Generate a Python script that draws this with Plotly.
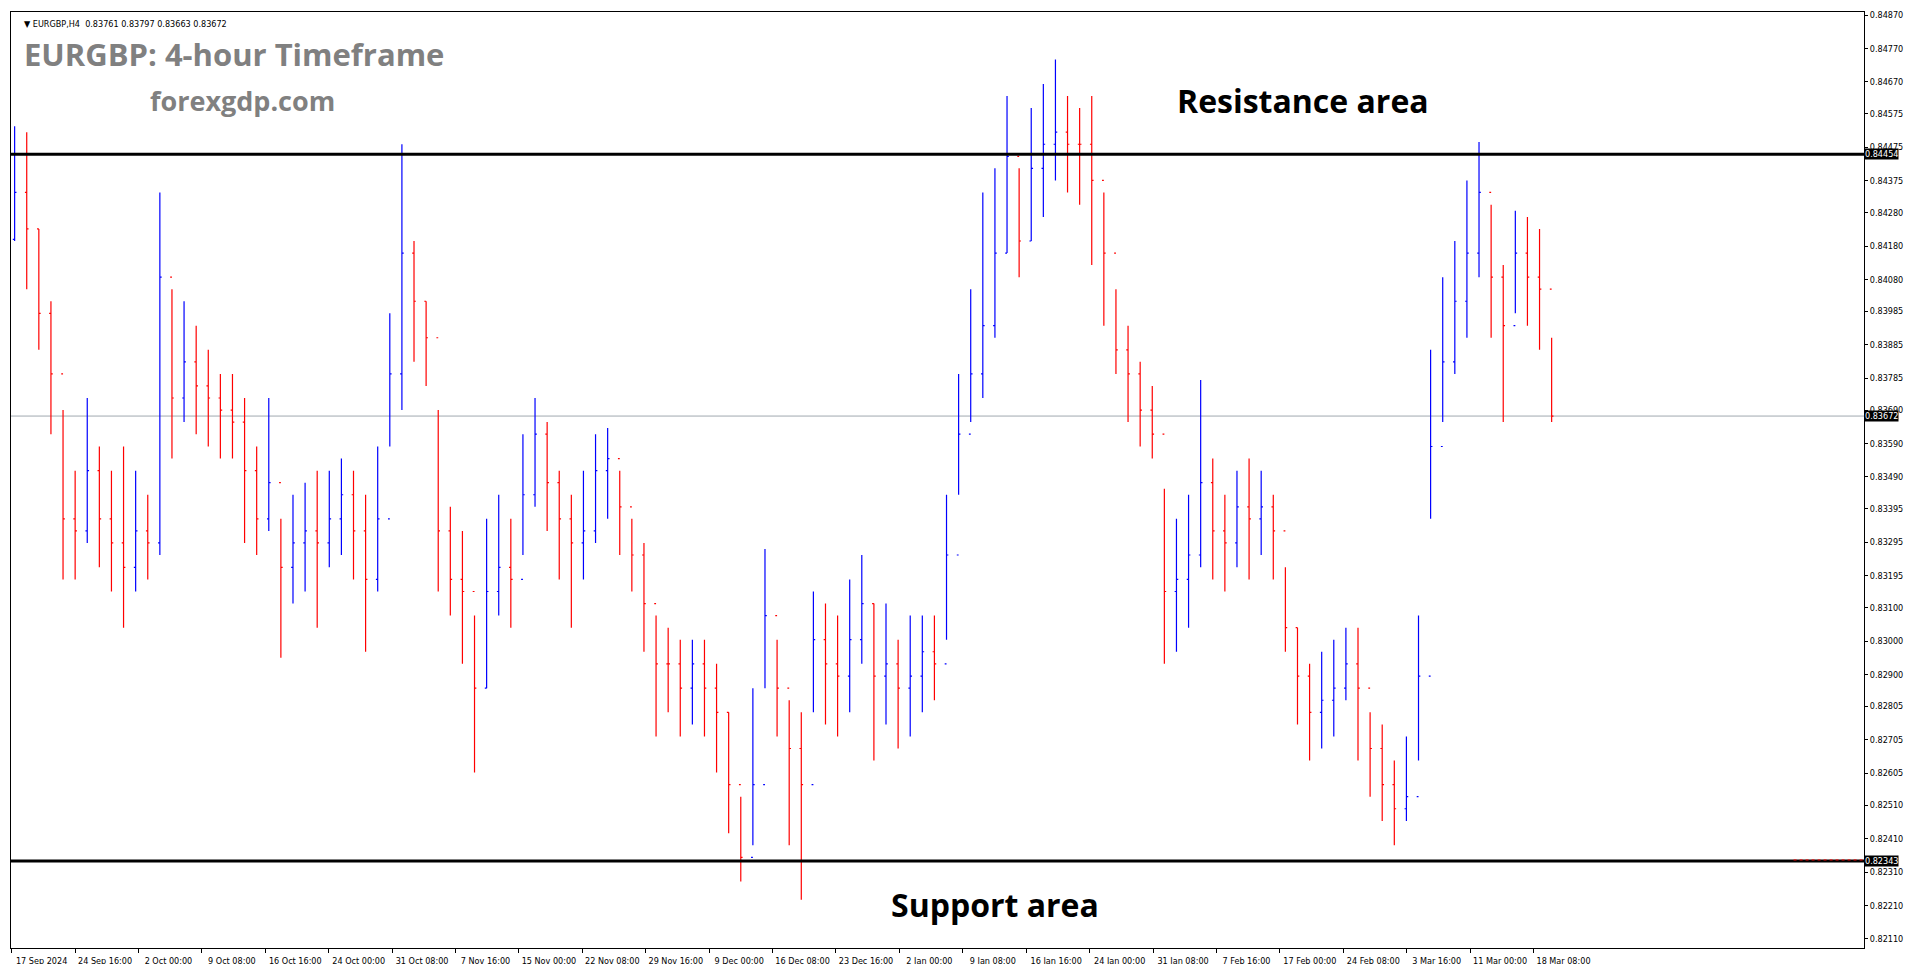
import plotly.graph_objects as go

close = [0.84340,0.84231,0.83979,0.83798,0.83365,0.83329,0.83509,0.83365,0.83293,0.83220,
0.83329,0.83293,0.84087,0.83726,0.83834,0.83762,0.83726,0.83690,0.83654,0.83509,
0.83365,0.83473,0.83220,0.83293,0.83329,0.83293,0.83365,0.83437,0.83329,0.83184,
0.83365,0.83798,0.84159,0.84015,0.83906,0.83329,0.83184,0.83148,0.82859,0.83148,
0.83220,0.83184,0.83437,0.83618,0.83473,0.83365,0.83293,0.83329,0.83509,0.83545,
0.83401,0.83257,0.83112,0.82932,0.82932,0.82859,0.82932,0.82859,0.82787,0.82571,
0.82354,0.82571,0.83076,0.82859,0.82679,0.82571,0.83004,0.82932,0.82895,0.83004,
0.83112,0.82895,0.82932,0.82859,0.82895,0.82968,0.82932,0.83257,0.83618,0.83798,
0.83942,0.84159,0.84448,0.84195,0.84412,0.84484,0.84520,0.84484,0.84484,0.84376,
0.84159,0.83870,0.83798,0.83690,0.83618,0.83148,0.83184,0.83257,0.83473,0.83329,
0.83293,0.83401,0.83365,0.83401,0.83329,0.83040,0.82895,0.82787,0.82823,0.82859,
0.82932,0.82859,0.82679,0.82571,0.82499,0.82535,0.82895,0.83581,0.83834,0.84015,
0.84159,0.84340,0.84087,0.83942,0.84159,0.84087,0.84051,0.83672]
high = [0.84538,0.84520,0.84231,0.84015,0.83690,0.83509,0.83726,0.83581,0.83509,0.83581,
0.83509,0.83437,0.84340,0.84051,0.84015,0.83942,0.83870,0.83798,0.83798,0.83726,
0.83581,0.83726,0.83365,0.83437,0.83473,0.83509,0.83509,0.83545,0.83509,0.83437,
0.83581,0.83979,0.84484,0.84195,0.84015,0.83690,0.83401,0.83329,0.83076,0.83365,
0.83437,0.83365,0.83618,0.83726,0.83654,0.83509,0.83437,0.83509,0.83618,0.83636,
0.83509,0.83365,0.83293,0.83076,0.83040,0.83004,0.83004,0.83004,0.82932,0.82787,
0.82535,0.82859,0.83275,0.83004,0.82823,0.82787,0.83148,0.83112,0.83076,0.83184,
0.83257,0.83112,0.83112,0.83004,0.83076,0.83076,0.83076,0.83437,0.83798,0.84051,
0.84340,0.84412,0.84628,0.84412,0.84592,0.84664,0.84737,0.84628,0.84592,0.84628,
0.84340,0.84051,0.83942,0.83834,0.83762,0.83455,0.83365,0.83437,0.83780,0.83545,
0.83437,0.83509,0.83545,0.83509,0.83437,0.83220,0.83040,0.82932,0.82968,0.83004,
0.83040,0.83040,0.82787,0.82751,0.82643,0.82715,0.83076,0.83870,0.84087,0.84195,
0.84376,0.84491,0.84303,0.84123,0.84285,0.84267,0.84231,0.83906]
low = [0.84195,0.84051,0.83870,0.83618,0.83184,0.83184,0.83293,0.83220,0.83148,0.83040,
0.83148,0.83184,0.83257,0.83545,0.83654,0.83618,0.83581,0.83545,0.83545,0.83293,
0.83257,0.83329,0.82950,0.83112,0.83148,0.83040,0.83220,0.83257,0.83184,0.82968,
0.83148,0.83581,0.83690,0.83834,0.83762,0.83148,0.83076,0.82932,0.82607,0.82859,
0.83076,0.83040,0.83257,0.83401,0.83329,0.83184,0.83040,0.83184,0.83293,0.83365,
0.83257,0.83148,0.82968,0.82715,0.82787,0.82715,0.82751,0.82715,0.82607,0.82426,
0.82282,0.82390,0.82859,0.82715,0.82390,0.82227,0.82787,0.82751,0.82715,0.82787,
0.82932,0.82643,0.82751,0.82679,0.82715,0.82787,0.82823,0.83004,0.83437,0.83654,
0.83726,0.83906,0.84159,0.84087,0.84195,0.84267,0.84376,0.84340,0.84303,0.84123,
0.83942,0.83798,0.83654,0.83581,0.83545,0.82932,0.82968,0.83040,0.83220,0.83184,
0.83148,0.83220,0.83184,0.83257,0.83184,0.82968,0.82751,0.82643,0.82679,0.82715,
0.82823,0.82643,0.82535,0.82462,0.82390,0.82462,0.82643,0.83365,0.83654,0.83798,
0.83906,0.84087,0.83906,0.83654,0.83979,0.83942,0.83870,0.83654]
first_open = 0.84200
open_ = [first_open] + close[:-1]

date_labels = ["17 Sep 2024","24 Sep 16:00","2 Oct 00:00","9 Oct 08:00","16 Oct 16:00",
"24 Oct 00:00","31 Oct 08:00","7 Nov 16:00","15 Nov 00:00","22 Nov 08:00","29 Nov 16:00",
"9 Dec 00:00","16 Dec 08:00","23 Dec 16:00","2 Jan 00:00","9 Jan 08:00","16 Jan 16:00",
"24 Jan 00:00","31 Jan 08:00","7 Feb 16:00","17 Feb 00:00","24 Feb 08:00","3 Mar 16:00",
"11 Mar 00:00","18 Mar 08:00"]
price_ticks = [0.84870,0.84770,0.84670,0.84575,0.84475,0.84375,0.84280,0.84180,0.84080,
0.83985,0.83885,0.83785,0.83690,0.83590,0.83490,0.83395,0.83295,0.83195,0.83100,0.83000,
0.82900,0.82805,0.82705,0.82605,0.82510,0.82410,0.82310,0.82210,0.82110]
resistance = 0.84454
support = 0.82343
last_price = 0.83672
header = "EURGBP,H4  0.83761 0.83797 0.83663 0.83672"

W, H = 1916, 964
L, R, T, B = 3, 60, 2, 24
pw = W - L - R
bar_px = 12.1
x0_px = 4
xmax = (pw - x0_px) / bar_px
idx = list(range(len(close)))
tickvals = [(1 + 63.4 * k - x0_px) / bar_px for k in range(len(date_labels))]

fig = go.Figure()
fig.add_trace(go.Ohlc(x=idx, open=open_, high=high, low=low, close=close,
    increasing=dict(line=dict(color="#0000ff", width=1.2)),
    decreasing=dict(line=dict(color="#ff0000", width=1.2)),
    tickwidth=0.15, hoverinfo="skip", showlegend=False))

for yv, w, c in [(resistance, 3, "black"), (support, 3, "black"), (last_price, 1, "#a0a8b0")]:
    fig.add_shape(type="line", xref="paper", x0=0, x1=1, y0=yv, y1=yv,
                  line=dict(color=c, width=w), layer="below" if w == 1 else "above")
fig.add_shape(type="line", xref="paper", x0=0.962, x1=1, y0=support + 0.00003, y1=support + 0.00003,
              line=dict(color="red", width=1, dash="dot"))

for yv in [resistance, support, last_price]:
    fig.add_annotation(xref="paper", x=1.0, y=yv, text=f"{yv:.5f}", showarrow=False,
        xanchor="left", xshift=0, bgcolor="black",
        font=dict(color="white", size=9, family="DejaVu Sans Condensed"), borderpad=0)

fig.add_annotation(xref="paper", yref="paper", x=0.006, y=0.995, text="▼ " + header, showarrow=False,
    xanchor="left", yanchor="top", font=dict(size=9, color="black", family="DejaVu Sans Condensed"))
fig.add_annotation(xref="paper", yref="paper", x=0.006, y=0.955, text="<b>EURGBP: 4-hour Timeframe</b>",
    showarrow=False, xanchor="left", yanchor="middle", font=dict(size=31, color="#808080", family="Open Sans"))
fig.add_annotation(xref="paper", yref="paper", x=0.125, y=0.905, text="<b>forexgdp.com</b>",
    showarrow=False, xanchor="center", yanchor="middle", font=dict(size=27, color="#808080", family="Open Sans"))
fig.add_annotation(xref="paper", yref="paper", x=0.697, y=0.905, text="<b>Resistance area</b>",
    showarrow=False, xanchor="center", yanchor="middle", font=dict(size=32, color="black", family="Open Sans"))
fig.add_annotation(xref="paper", yref="paper", x=0.531, y=0.047, text="<b>Support area</b>",
    showarrow=False, xanchor="center", yanchor="middle", font=dict(size=32, color="black", family="Open Sans"))

fig.update_layout(width=W, height=H, margin=dict(l=L, r=R, t=T, b=B),
    plot_bgcolor="white", paper_bgcolor="white",
    xaxis=dict(range=[-0.3, xmax], tickvals=tickvals, ticktext=date_labels, rangeslider=dict(visible=False),
               showgrid=False, zeroline=False, showline=True, linecolor="black", mirror=True,
               ticks="outside", ticklen=4, tickcolor="black", tickangle=0, ticklabelshift=30,
               tickfont=dict(size=9, family="DejaVu Sans Condensed", color="black")),
    yaxis=dict(range=[0.82083, 0.84879], side="right", tickvals=price_ticks,
               ticktext=[f"{v:.5f}" for v in price_ticks], showgrid=False, zeroline=False,
               showline=True, linecolor="black", mirror=True, ticks="outside", ticklen=3, tickcolor="black",
               tickfont=dict(size=9, family="DejaVu Sans Condensed", color="black")))
fig.write_html("out.html")
